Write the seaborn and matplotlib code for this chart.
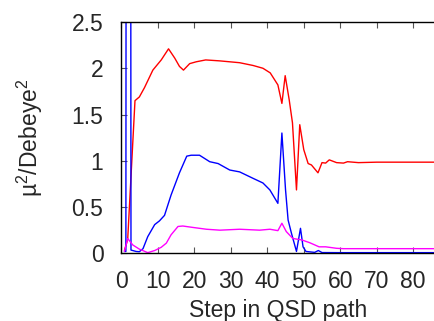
import matplotlib
matplotlib.use("Agg")
import matplotlib.pyplot as plt
import seaborn as sb
import pandas as pd

# values
red_x = [0.8, 1.7, 3.7, 4.9, 6.3, 8.6, 10.9, 12.9, 14.6, 15.9, 17.0, 18.7, 20.5, 23.1, 26.9,
         32.4, 36.1, 38.8, 40.8, 42.9, 44.0, 44.9, 46.0, 46.9, 48.0, 48.9, 50.0, 51.2, 52.1,
         53.9, 55.0, 56.0, 57.0, 59.0, 60.9, 62.0, 65.0, 70.0, 75.0, 80.0, 86.0]
red_y = [0.03, 0.15, 1.65, 1.69, 1.79, 1.98, 2.09, 2.21, 2.11, 2.02, 1.98, 2.05, 2.07, 2.09, 2.08,
         2.06, 2.03, 2.00, 1.95, 1.82, 1.62, 1.92, 1.66, 1.41, 0.685, 1.39, 1.12, 0.97, 0.955,
         0.87, 0.98, 0.975, 1.01, 0.98, 0.975, 0.99, 0.98, 0.985, 0.985, 0.985, 0.985]

blue_x = [0.8, 1.2, 1.9, 2.6, 4.0, 4.9, 5.9, 7.2, 9.1, 10.4, 11.8, 13.6, 15.9, 17.9, 19.1, 21.4,
          24.2, 26.5, 29.7, 32.4, 36.1, 38.8, 40.7, 42.9, 44.0, 45.0, 45.7, 46.6, 48.0, 49.1,
          49.8, 50.6, 53.0, 54.0, 55.0, 60.0, 70.0, 80.0, 86.0]
blue_y = [0.02, 0.02, 40.0, 0.035, 0.02, 0.017, 0.05, 0.18, 0.31, 0.35, 0.41, 0.63, 0.87, 1.05, 1.06, 1.06,
          0.99, 0.97, 0.90, 0.88, 0.81, 0.76, 0.685, 0.54, 1.30, 0.685, 0.36, 0.22, 0.02, 0.27,
          0.07, 0.02, 0.01, 0.03, 0.008, 0.007, 0.007, 0.007, 0.007]

mag_x = [0.8, 1.7, 3.1, 4.9, 7.2, 9.1, 10.9, 12.3, 13.6, 15.5, 16.8, 19.5, 23.3, 27.0, 32.4,
         37.9, 40.7, 42.9, 44.0, 45.2, 47.0, 49.4, 51.6, 54.2, 56.0, 59.0, 60.9, 70.0, 80.0, 86.0]
mag_y = [0.02, 0.16, 0.09, 0.045, 0.007, 0.03, 0.065, 0.11, 0.2, 0.29, 0.295, 0.28, 0.26, 0.25, 0.26,
         0.25, 0.26, 0.245, 0.325, 0.235, 0.16, 0.145, 0.115, 0.07, 0.07, 0.054, 0.05, 0.05, 0.05, 0.05]

sb.set_style("white")
plt.rcParams['font.family'] = ['Liberation Sans', 'DejaVu Sans']
plt.rcParams['mathtext.fontset'] = 'custom'
plt.rcParams['mathtext.rm'] = 'Liberation Sans'
plt.rcParams['mathtext.it'] = 'Liberation Sans'

fig = plt.figure(figsize=(4.35, 3.21), dpi=100)
ax = fig.add_axes([121.5/435, 1-253.3/321, 1-121.5/435, (253.3-22)/321])

for xs, ys, col in [(red_x, red_y, "#ff0000"), (blue_x, blue_y, "#0000ff"), (mag_x, mag_y, "#ff00ff")]:
    df = pd.DataFrame({'x': xs, 'y': ys})
    sb.lineplot(data=df, x='x', y='y', color=col, lw=1.0, estimator=None, sort=False, ax=ax)

ax.set_xlim(0, 86)
ax.set_ylim(0, 2.5)
ax.set_xticks(range(0, 90, 10))
ax.set_yticks([0, 0.5, 1, 1.5, 2, 2.5])
ax.set_yticklabels(['0', '0.5', '1', '1.5', '2', '2.5'])
ax.tick_params(direction='in', length=4, width=0.8, color='#555555', labelsize=16.5,
               top=True, bottom=True, left=True, right=False, pad=12)
ax.tick_params(axis='y', pad=13)
for s in ['left', 'top', 'bottom']:
    ax.spines[s].set_color('black')
    ax.spines[s].set_linewidth(1.0)
ax.spines['right'].set_visible(False)
ax.set_xlabel("Step in QSD path", fontsize=16.5, labelpad=4)
ax.set_ylabel("µ$^{\\mathrm{2}}$/Debeye$^{\\mathrm{2}}$", fontsize=16.5, labelpad=19)

fig.savefig("out.png", dpi=100)
